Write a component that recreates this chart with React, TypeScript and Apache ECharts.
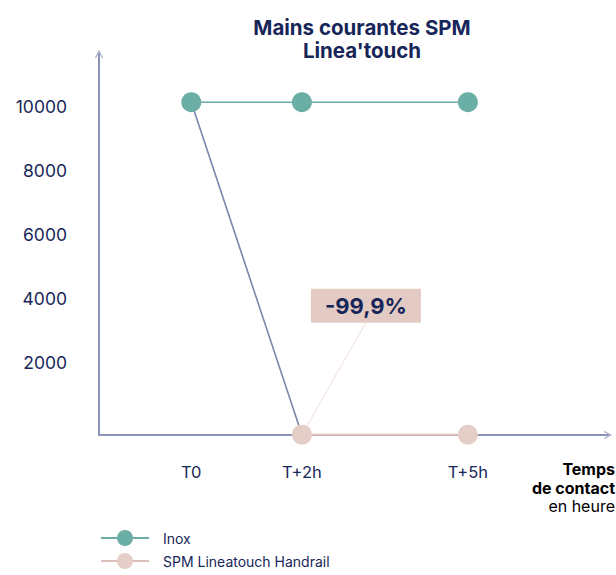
import React, { useEffect, useRef } from "react";
import * as echarts from "echarts";

const hours = [0, 2, 5];
const xLabels = ["T0", "T+2h", "T+5h"];
const inox = [10400, 10400, 10400];
const spm = [10400, 10, 10];
const yTicks = [2000, 4000, 6000, 8000, 10000];
const reductionLabel = "-99,9%";

const NAVY = "#172659";
const TEAL = "#6aaea6";
const PINK = "#e5cec8";
const PINK_LINE = "#dcc1ba";
const SLATE = "#7e84b0";
const AXIS = "#8d94b9";
const FONT = "Inter, 'Noto Sans', sans-serif";

const chevron = "path://M0,10 L5,0 L10,10 L8.8,10 L5,2.4 L1.2,10 Z";

export default function App() {
  const ref = useRef<HTMLDivElement>(null);
  useEffect(() => {
    if (!ref.current) return;
    const chart = echarts.init(ref.current, undefined, { renderer: "svg" });
    const xLabelMap: Record<number, string> = {};
    hours.forEach((h, i) => (xLabelMap[h] = xLabels[i]));

    chart.setOption({
      animation: false,
      title: {
        text: "Mains courantes SPM\nLinea'touch",
        left: 357,
        top: 11,
        textAlign: "center",
        textStyle: { fontFamily: FONT, fontWeight: 700, fontSize: 20.5, color: NAVY, lineHeight: 23 },
      },
      grid: { left: 99, top: 54, right: 8, bottom: 140, containLabel: false },
      xAxis: {
        type: "value",
        min: -1.668,
        max: 7.533,
        splitLine: { show: false },
        axisTick: { show: false },
        axisLine: {
          show: true,
          onZero: false,
          symbol: ["none", chevron],
          symbolSize: [16, 8],
          lineStyle: { color: AXIS, width: 2 },
        },
        axisLabel: {
          customValues: hours,
          formatter: (v: number) => xLabelMap[v] ?? "",
          margin: 28,
          fontFamily: FONT,
          fontSize: 16.5,
          color: NAVY,
        },
      },
      yAxis: {
        type: "value",
        min: 0,
        max: 11906,
        splitLine: { show: false },
        axisTick: { show: false },
        axisLine: {
          show: true,
          onZero: false,
          symbol: ["none", chevron],
          symbolSize: [16, 8],
          lineStyle: { color: AXIS, width: 2 },
        },
        axisLabel: {
          customValues: yTicks,
          formatter: (v: number) => String(v),
          margin: 32,
          verticalAlign: "bottom",
          lineHeight: 16,
          fontFamily: FONT,
          fontSize: 17.5,
          color: NAVY,
        },
      },
      legend: {
        data: ["Inox", "SPM Lineatouch Handrail"],
        orient: "vertical",
        left: 100,
        top: 530,
        height: 60,
        padding: 0,
        itemWidth: 48,
        itemHeight: 20,
        itemGap: 7,
        textStyle: { fontFamily: FONT, fontSize: 14, color: NAVY, padding: [0, 0, 0, 9] },
      },
      graphic: [
        {
          type: "text",
          right: 1,
          top: 461,
          style: {
            text: "{b|Temps}\n{b|de contact}\n{r|en heure}",
            align: "right",
            rich: {
              b: { fontFamily: FONT, fontWeight: 700, fontSize: 16, color: NAVY, lineHeight: 18.5, align: "right" },
              r: { fontFamily: FONT, fontWeight: 400, fontSize: 16, color: NAVY, lineHeight: 18.5, align: "right" },
            },
          },
        },
      ],
      series: [
        {
          name: "drop",
          type: "line",
          data: [
            [hours[0], spm[0]],
            [hours[1], spm[1]],
          ],
          symbol: "none",
          lineStyle: { color: SLATE, width: 1.6 },
          itemStyle: { color: SLATE },
          z: 2,
          silent: true,
        },
        {
          name: "SPM Lineatouch Handrail",
          type: "line",
          data: hours.slice(1).map((h, i) => {
            const v = spm[i + 1];
            if (i === 0) {
              return {
                value: [h, v],
                label: {
                  show: true,
                  position: "inside",
                  formatter: reductionLabel,
                  backgroundColor: "#e3cbc4",
                  color: NAVY,
                  fontFamily: FONT,
                  fontWeight: 700,
                  fontSize: 22,
                  padding: [6, 14, 4, 14],
                  width: 82,
                  height: 24,
                  align: "center",
                  verticalAlign: "middle",
                },
                labelLine: {
                  show: true,
                  lineStyle: { color: "#e2b9b2", width: 1, type: "dotted" },
                },
              };
            }
            return [h, v];
          }),
          labelLayout: (p: any) => (p.dataIndex === 0 ? { dx: 64, dy: -129 } : {}),
          symbol: "circle",
          symbolSize: 20,
          lineStyle: { color: PINK_LINE, width: 2 },
          itemStyle: { color: PINK },
          z: 3,
        },
        {
          name: "Inox",
          type: "line",
          data: hours.map((h, i) => [h, inox[i]]),
          symbol: "circle",
          symbolSize: 20,
          lineStyle: { color: TEAL, width: 1.6 },
          itemStyle: { color: TEAL },
          z: 4,
        },
      ],
    });
    return () => chart.dispose();
  }, []);
  return <div ref={ref} style={{ width: 616, height: 575, position: "absolute", left: 0, top: 0 }} />;
}
